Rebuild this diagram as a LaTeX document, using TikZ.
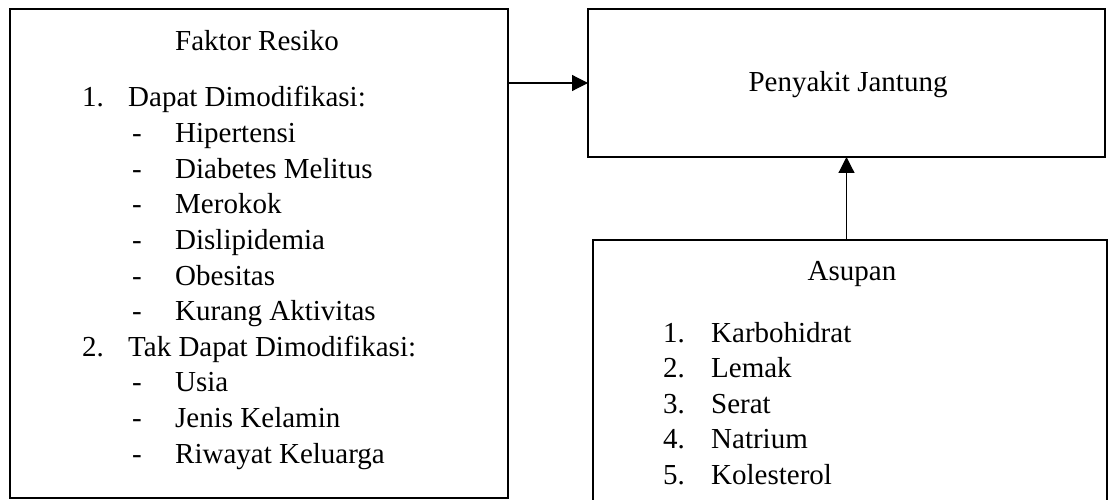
\documentclass[tikz,border=0pt]{standalone}
\usepackage{fontspec}
\setmainfont{Liberation Serif}
\usetikzlibrary{arrows.meta}
\begin{document}
\begin{tikzpicture}[x=1pt,y=-1pt,
  box/.style={draw, line width=2.2pt, inner sep=0pt, outer sep=0pt},
  txt/.style={inner sep=0pt, anchor=base west, font=\fontsize{29}{35.6}\selectfont},
  ctxt/.style={inner sep=0pt, anchor=base, font=\fontsize{29}{35.6}\selectfont},
  conn/.style={line width=1.2pt, -{Triangle[length=16pt,width=16pt]}}]
\useasboundingbox (0,0) rectangle (1114,500);
% boxes
\node[box, minimum width=498pt, minimum height=489pt] (faktor) at (259,253.5) {};
\node[box, minimum width=517pt, minimum height=148pt] (penyakit) at (846.5,83) {};
\node[box, minimum width=514pt, minimum height=280pt] (asupan) at (850,380) {};
% left box text
\node[ctxt] (ft) at (257,51) {Faktor Resiko};
\node[txt] (n1) at (82,107) {1.};
\node[txt] (t1) at (128,107) {Dapat Dimodifikasi:};
\node[txt] (d1) at (132,142.6) {-};
\node[txt] (a1) at (175,142.6) {Hipertensi};
\node[txt] (d2) at (132,178.2) {-};
\node[txt] (a2) at (175,178.2) {Diabetes Melitus};
\node[txt] (d3) at (132,213.8) {-};
\node[txt] (a3) at (175,213.8) {Merokok};
\node[txt] (d4) at (132,249.4) {-};
\node[txt] (a4) at (175,249.4) {Dislipidemia};
\node[txt] (d5) at (132,285) {-};
\node[txt] (a5) at (175,285) {Obesitas};
\node[txt] (d6) at (132,320.6) {-};
\node[txt] (a6) at (175,320.6) {Kurang Aktivitas};
\node[txt] (n2) at (82,356.2) {2.};
\node[txt] (t2) at (128,356.2) {Tak Dapat Dimodifikasi:};
\node[txt] (d7) at (132,391.8) {-};
\node[txt] (b1) at (175,391.8) {Usia};
\node[txt] (d8) at (132,427.4) {-};
\node[txt] (b2) at (175,427.4) {Jenis Kelamin};
\node[txt] (d9) at (132,463) {-};
\node[txt] (b3) at (175,463) {Riwayat Keluarga};
% penyakit text
\node[ctxt] (pt) at (848,92) {Penyakit Jantung};
% asupan text
\node[ctxt] (at) at (852,280) {Asupan};
\node[txt] (m1) at (663,342) {1.};
\node[txt] (c1) at (711,342) {Karbohidrat};
\node[txt] (m2) at (663,377.6) {2.};
\node[txt] (c2) at (711,377.6) {Lemak};
\node[txt] (m3) at (663,413.2) {3.};
\node[txt] (c3) at (711,413.2) {Serat};
\node[txt] (m4) at (663,448.8) {4.};
\node[txt] (c4) at (711,448.8) {Natrium};
\node[txt] (m5) at (663,484.4) {5.};
\node[txt] (c5) at (711,484.4) {Kolesterol};
% connectors
\draw[conn] (penyakit.west -| faktor.east) -- (penyakit.west);
\draw[conn] (penyakit.south |- asupan.north) -- (penyakit.south);
\end{tikzpicture}
\end{document}
